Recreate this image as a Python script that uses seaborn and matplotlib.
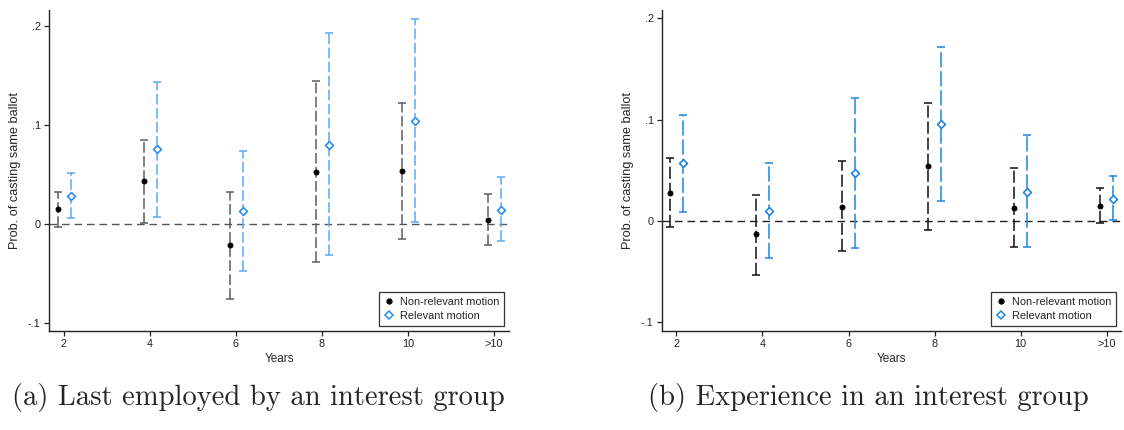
import numpy as np
import pandas as pd
import matplotlib
matplotlib.use("Agg")
import matplotlib.pyplot as plt
import seaborn as sns
from matplotlib.lines import Line2D

# --- DATA ---
YEARS = ["2", "4", "6", "8", "10", ">10"]

a_nonrel_est = [0.015, 0.043, -0.022, 0.052, 0.053, 0.004]
a_nonrel_lo = [-0.003, 0.001, -0.076, -0.039, -0.016, -0.022]
a_nonrel_hi = [0.032, 0.085, 0.032, 0.144, 0.122, 0.030]
a_rel_est = [0.028, 0.075, 0.013, 0.080, 0.104, 0.014]
a_rel_lo = [0.006, 0.007, -0.048, -0.032, 0.002, -0.018]
a_rel_hi = [0.051, 0.143, 0.073, 0.193, 0.207, 0.047]

b_nonrel_est = [0.028, -0.013, 0.014, 0.054, 0.013, 0.015]
b_nonrel_lo = [-0.006, -0.053, -0.030, -0.009, -0.026, -0.002]
b_nonrel_hi = [0.062, 0.026, 0.059, 0.116, 0.052, 0.033]
b_rel_est = [0.057, 0.010, 0.047, 0.096, 0.029, 0.022]
b_rel_lo = [0.009, -0.037, -0.027, 0.020, -0.026, 0.001]
b_rel_hi = [0.105, 0.057, 0.121, 0.172, 0.085, 0.044]

YTICKS = [-0.1, 0, 0.1, 0.2]
YTICKLABELS = ["-.1", "0", ".1", ".2"]
CAPTIONS = ["(a) Last employed by an interest group", "(b) Experience in an interest group"]
LABELS = ["Non-relevant motion", "Relevant motion"]


def build_frame(nr_est, nr_lo, nr_hi, r_est, r_lo, r_hi):
    rows = []
    for i, y in enumerate(YEARS):
        rows.append({"Years": y, "idx": i, "motion": LABELS[0], "est": nr_est[i], "lo": nr_lo[i], "hi": nr_hi[i]})
        rows.append({"Years": y, "idx": i, "motion": LABELS[1], "est": r_est[i], "lo": r_lo[i], "hi": r_hi[i]})
    df = pd.DataFrame(rows)
    df["xpos"] = df["idx"] + np.where(df["motion"] == LABELS[0], -0.075, 0.078)
    return df


df_a = build_frame(a_nonrel_est, a_nonrel_lo, a_nonrel_hi, a_rel_est, a_rel_lo, a_rel_hi)
df_b = build_frame(b_nonrel_est, b_nonrel_lo, b_nonrel_hi, b_rel_est, b_rel_lo, b_rel_hi)

sns.set_theme(style="ticks")
plt.rcParams["font.family"] = ["Liberation Sans", "DejaVu Sans"]

fig = plt.figure(figsize=(11.24, 4.30), dpi=100)

panels = [
    # df, axes rect, ylim, xlim, colours (black CI, blue CI, blue marker), zero line colour
    (df_a, [49 / 1124, 1 - 331 / 430, 460 / 1124, 321 / 430], (-0.1085, 0.216), (-0.174, 5.174),
     ("#5c5c5c", "#5aaaf5", "#2a8ff0"), "#555555", (0, (7, 2.2)), (0, (7, 2.2))),
    (df_b, [662 / 1124, 1 - 331 / 430, 459 / 1124, 321 / 430], (-0.1086, 0.2083), (-0.167, 5.166),
     ("#111111", "#1f86e0", "#1f86e0"), "#222222", (0, (8, 2.5)), (0, (10, 2.5))),
]

for df, rect, ylim, xlim, cols, zcol, dash_k, dash_b in panels:
    ax = fig.add_axes(rect)
    c_black, c_blue, c_mark = cols

    ax.axhline(0, color=zcol, lw=1.0, ls=(0, (5.5, 3.5)), zorder=1)

    # confidence intervals
    for motion, col, dash in [(LABELS[0], c_black, dash_k), (LABELS[1], c_blue, dash_b)]:
        sub = df[df["motion"] == motion]
        _, caps, bars = ax.errorbar(sub["xpos"], sub["est"],
                                    yerr=[sub["est"] - sub["lo"], sub["hi"] - sub["est"]],
                                    fmt="none", ecolor=col, elinewidth=1.1, capsize=2.8,
                                    capthick=1.1, zorder=2)
        bars[0].set_linestyle(dash)

    # point estimates
    nr = df[df["motion"] == LABELS[0]]
    rl = df[df["motion"] == LABELS[1]]
    sns.scatterplot(data=nr, x="xpos", y="est", ax=ax, marker="o", color="black",
                    edgecolor="black", s=14, linewidth=0.5, zorder=3, legend=False)
    sns.scatterplot(data=rl, x="xpos", y="est", ax=ax, marker="D", color="white",
                    edgecolor=c_mark, s=16, linewidth=1.2, zorder=3, legend=False)

    ax.set_xlim(*xlim)
    ax.set_ylim(*ylim)
    ax.set_xticks(range(len(YEARS)))
    ax.set_xticklabels(YEARS)
    ax.set_yticks(YTICKS)
    ax.set_yticklabels(YTICKLABELS)
    ax.tick_params(axis="both", labelsize=7.8, length=3.5, width=0.9, pad=2.5, colors="#222222")
    ax.set_xlabel("Years", fontsize=8.5, labelpad=3)
    ax.set_ylabel("Prob. of casting same ballot", fontsize=9.2, labelpad=5)
    sns.despine(ax=ax)
    for s in ["left", "bottom"]:
        ax.spines[s].set_linewidth(1.0)
        ax.spines[s].set_color("#222222")

    handles = [
        Line2D([0], [0], marker="o", ls="none", color="black", markersize=3.5),
        Line2D([0], [0], marker="D", ls="none", markerfacecolor="white",
               markeredgecolor=c_mark, markeredgewidth=1.1, markersize=4),
    ]
    leg = ax.legend(handles, LABELS, loc="lower right", bbox_to_anchor=(0.99, 0.016),
                    borderaxespad=0, fontsize=7.9, frameon=True, fancybox=False,
                    handlelength=1.0, handletextpad=0.5, borderpad=0.45, labelspacing=0.35)
    leg.get_frame().set_edgecolor("black")
    leg.get_frame().set_linewidth(0.9)

# captions
fig.text(12 / 1124, 1 - 405 / 430, CAPTIONS[0], family="cmr10", fontsize=20.6, va="baseline", ha="left")
fig.text(648 / 1124, 1 - 405 / 430, CAPTIONS[1], family="cmr10", fontsize=20.6, va="baseline", ha="left")

fig.savefig("out.png", dpi=100)
